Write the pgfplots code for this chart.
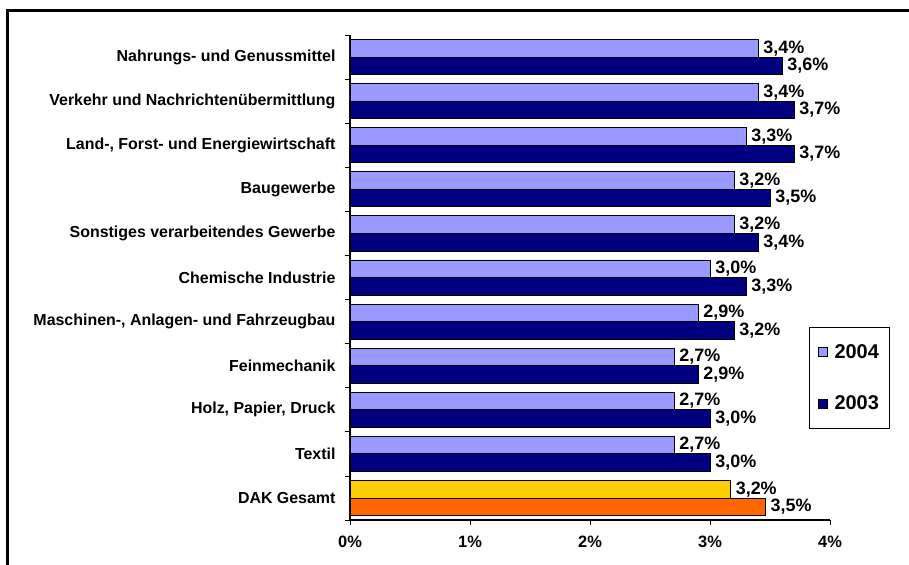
\documentclass[border=0pt]{standalone}
\usepackage{fontspec}
\setmainfont{Liberation Sans}
\usepackage{pgfplots}
\pgfplotsset{compat=1.18}
\definecolor{c04}{HTML}{9999FF}
\definecolor{c03}{HTML}{000080}
\definecolor{cy}{HTML}{FFCC00}
\definecolor{co}{HTML}{FF6600}
\begin{document}
\begin{tikzpicture}[x=1bp,y=1bp]
\path[use as bounding box] (-350,-45) rectangle (559,520);
\draw[line width=3bp] (-342,-60) -- (-342,509) -- (570,509);
\begin{axis}[
 at={(0,0)}, anchor=south west,
 scale only axis, width=480bp, height=485bp,
 xbar, bar width=17.5bp,
 xmin=0, xmax=4, ymin=-0.5, ymax=10.5,
 axis x line*=bottom, axis y line*=left,
 axis line style={line width=1.2bp, -},
 tick align=outside,
 major tick length=5bp,
 tick style={black, line width=0.8bp},
 xtick={0,1,2,3,4}, xticklabels={0\%,1\%,2\%,3\%,4\%},
 xticklabel style={font=\fontsize{16.5}{18}\selectfont\bfseries, yshift=-8bp},
 ytick={-0.5,0.5,...,10.5}, yticklabels={},
 extra y ticks={0,1,2,3,4,5,6,7,8,9,10},
 extra y tick labels={DAK Gesamt, Textil, {Holz, Papier, Druck}, Feinmechanik, {Maschinen-, Anlagen- und Fahrzeugbau}, Chemische Industrie, Sonstiges verarbeitendes Gewerbe, Baugewerbe, {Land-, Forst- und Energiewirtschaft}, Verkehr und Nachrichtenübermittlung, Nahrungs- und Genussmittel},
 extra y tick style={major tick length=0pt, yticklabel style={xshift=-11bp}},
 yticklabel style={font=\fontsize{16}{18}\selectfont\bfseries},
 nodes near coords={\pgfmathprintnumber[fixed,fixed zerofill,precision=1,use comma,assume math mode=true]{\pgfplotspointmeta}\%},
 nodes near coords align=horizontal,
 every node near coord/.append style={font=\fontsize{18}{20}\selectfont\bfseries, black, inner sep=0bp, xshift=5bp},
 legend style={at={(0.956,0.398)}, anchor=north west, draw=black, line width=0.8bp,
   font=\fontsize{20}{22}\selectfont\bfseries, inner xsep=9bp, inner ysep=15bp, row sep=32bp},
 legend cell align=left,
 legend image code/.code={\draw[#1, line width=0.6bp] (0bp,-4.5bp) rectangle (9bp,4.5bp); \path[draw=none,fill=none] (0bp,0bp) rectangle (14bp,0bp);},
]
\addplot[fill=c04, draw=black, line width=0.8bp, bar shift=8.75bp] coordinates {(3.4,10) (3.4,9) (3.3,8) (3.2,7) (3.2,6) (3.0,5) (2.9,4) (2.7,3) (2.7,2) (2.7,1)};
\addplot[fill=c03, draw=black, line width=0.8bp, bar shift=-8.75bp] coordinates {(3.6,10) (3.7,9) (3.7,8) (3.5,7) (3.4,6) (3.3,5) (3.2,4) (2.9,3) (3.0,2) (3.0,1)};
\addplot[fill=cy, draw=black, line width=0.8bp, bar shift=8.75bp, forget plot] coordinates {(3.17,0)};
\addplot[fill=co, draw=black, line width=0.8bp, bar shift=-8.75bp, forget plot] coordinates {(3.46,0)};
\legend{2004,2003}
\end{axis}
\end{tikzpicture}
\end{document}
